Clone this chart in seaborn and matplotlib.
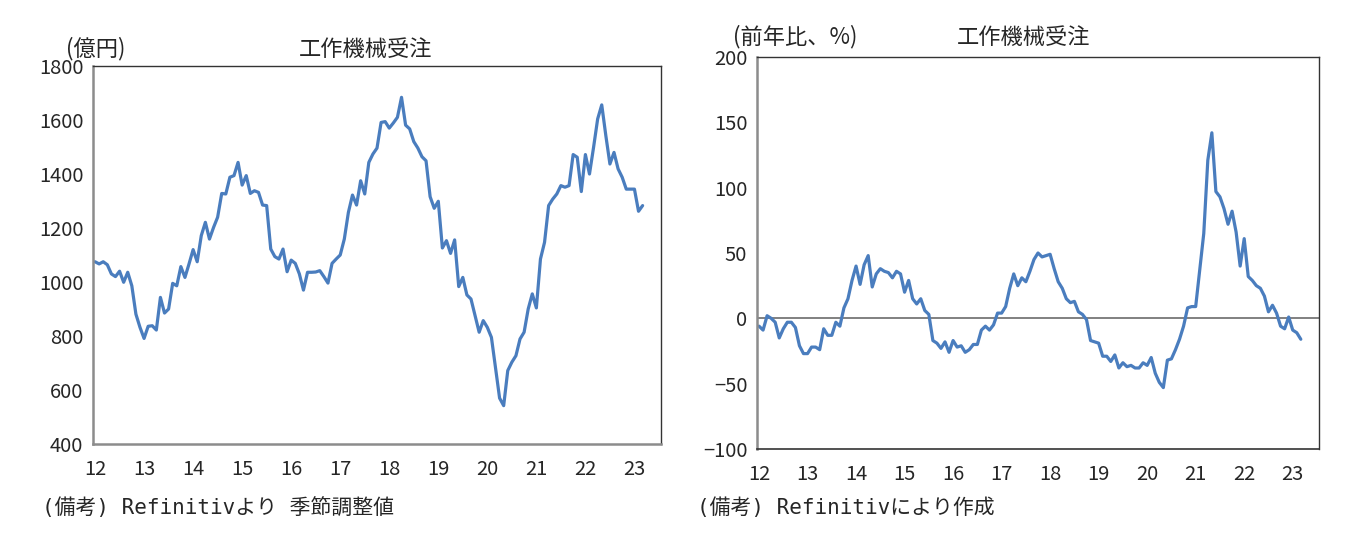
import matplotlib
matplotlib.use('Agg')
import numpy as np
import pandas as pd
import seaborn as sns
import matplotlib.pyplot as plt

# 2012年1月〜2023年3月 月次
years = ["12", "13", "14", "15", "16", "17", "18", "19", "20", "21", "22", "23"]

# 工作機械受注（億円、季節調整値）
orders = [1075, 1067, 1075, 1064, 1030, 1020, 1040, 999, 1036, 986,
          881, 832, 791, 836, 838, 822, 943, 885, 900, 995,
          986, 1057, 1017, 1067, 1120, 1075, 1172, 1221, 1159, 1202,
          1240, 1328, 1326, 1388, 1394, 1443, 1359, 1394, 1328, 1338,
          1332, 1285, 1283, 1122, 1094, 1085, 1122, 1038,
          1081, 1069, 1030, 970, 1036, 1036, 1037, 1042, 1020, 996,
          1069, 1085, 1100, 1159, 1258, 1322, 1285, 1375, 1326, 1443,
          1474, 1496, 1591, 1594, 1570, 1589, 1610, 1684, 1581, 1567,
          1520, 1496, 1464, 1449, 1316, 1273, 1299, 1126, 1153, 1106,
          1156, 983,
          1017, 952, 937, 875, 814, 857, 832, 795, 684, 570,
          542, 672, 703, 727, 789, 814, 900, 956, 904, 1085,
          1147, 1283, 1307, 1326, 1357, 1351, 1357, 1472, 1462, 1335,
          1472, 1400, 1499, 1604, 1656, 1542, 1437, 1480, 1419, 1388,
          1344, 1344, 1344, 1262, 1283]

# 工作機械受注（前年比、%）
yoy = [-6, -9, 2, 0, -3, -15, -8, -3, -3, -7,
       -21, -27, -27, -22, -22, -24, -8, -13, -13, -3,
       -6, 8, 15, 29, 40, 26, 41, 48, 24, 34,
       38, 36, 35, 31, 36, 34, 20, 29, 15, 11,
       15, 6, 3, -17, -19, -23, -18, -26,
       -17, -22, -21, -26, -24, -20, -20, -9, -6, -9,
       -5, 4, 4, 9, 23, 34, 25, 31, 28, 36,
       45, 50, 47, 48, 49, 38, 28, 23, 15, 12,
       13, 5, 3, -1, -17, -18, -19, -29, -29, -33,
       -28, -38, -34, -37, -36, -38, -38,
       -34, -36, -30, -42, -49, -53, -32, -31, -24, -16,
       -6, 8, 9, 9, 37, 65, 121, 142, 97, 93,
       84, 72, 82, 66, 40, 61, 32, 29, 25, 23,
       17, 5, 10, 4, -6, -8, 1, -9, -11, -16]

df = pd.DataFrame({"m": np.arange(len(orders)), "orders": orders, "yoy": yoy})

sns.set_style("white")
plt.rcParams['font.family'] = ['Noto Sans CJK JP', 'DejaVu Sans']
note_font = ['DejaVu Sans Mono', 'Noto Sans CJK JP']

line_color = "#4A7DBE"
fig = plt.figure(figsize=(13.53, 5.5), dpi=100)
ax1 = fig.add_axes([93 / 1353, 1 - 444 / 550, 568 / 1353, 378 / 550])
ax2 = fig.add_axes([757 / 1353, 1 - 449 / 550, 562 / 1353, 392 / 550])

sns.lineplot(data=df, x="m", y="orders", ax=ax1, color=line_color, linewidth=2.3)
sns.lineplot(data=df, x="m", y="yoy", ax=ax2, color=line_color, linewidth=2.3)
ax2.axhline(0, color="#808080", linewidth=1.4, zorder=1)

ax1.set_ylim(400, 1800)
ax1.set_yticks(range(400, 1801, 200))
ax2.set_ylim(-100, 200)
ax2.set_yticks(range(-100, 201, 50))

for ax in (ax1, ax2):
    ax.set_xlim(-0.5, 138.5)
    ax.set_xticks(range(0, 133, 12))
    ax.set_xticklabels(years)
    ax.set_xlabel("")
    ax.set_ylabel("")
    ax.tick_params(axis="x", length=0, pad=11, labelsize=14.5)
    ax.tick_params(axis="y", length=5, width=1.2, color="#888888", direction="out",
                   pad=2, labelsize=14.5)
    for s in ("top", "right"):
        ax.spines[s].set_color("#333333")
        ax.spines[s].set_linewidth(1.0)
    ax.spines["left"].set_color("#8c8c8c")
    ax.spines["left"].set_linewidth(1.8)

ax1.spines["bottom"].set_color("#8c8c8c")
ax1.spines["bottom"].set_linewidth(1.8)
ax2.spines["bottom"].set_color("#333333")
ax2.spines["bottom"].set_linewidth(1.2)

fig.text(66 / 1353, 1 - 49 / 550, "(億円)", fontsize=16, va="center", ha="left")
fig.text(366 / 1353, 1 - 49 / 550, "工作機械受注", fontsize=16, va="center", ha="center")
fig.text(733 / 1353, 1 - 37 / 550, "(前年比、%)", fontsize=16, va="center", ha="left")
fig.text(1024 / 1353, 1 - 37 / 550, "工作機械受注", fontsize=16, va="center", ha="center")
fig.text(42 / 1353, 1 - 508 / 550, "(備考) Refinitivより 季節調整値", fontsize=15,
         family=note_font, va="center", ha="left")
fig.text(697 / 1353, 1 - 508 / 550, "(備考) Refinitivにより作成", fontsize=15,
         family=note_font, va="center", ha="left")

fig.savefig("out.png", dpi=100)
